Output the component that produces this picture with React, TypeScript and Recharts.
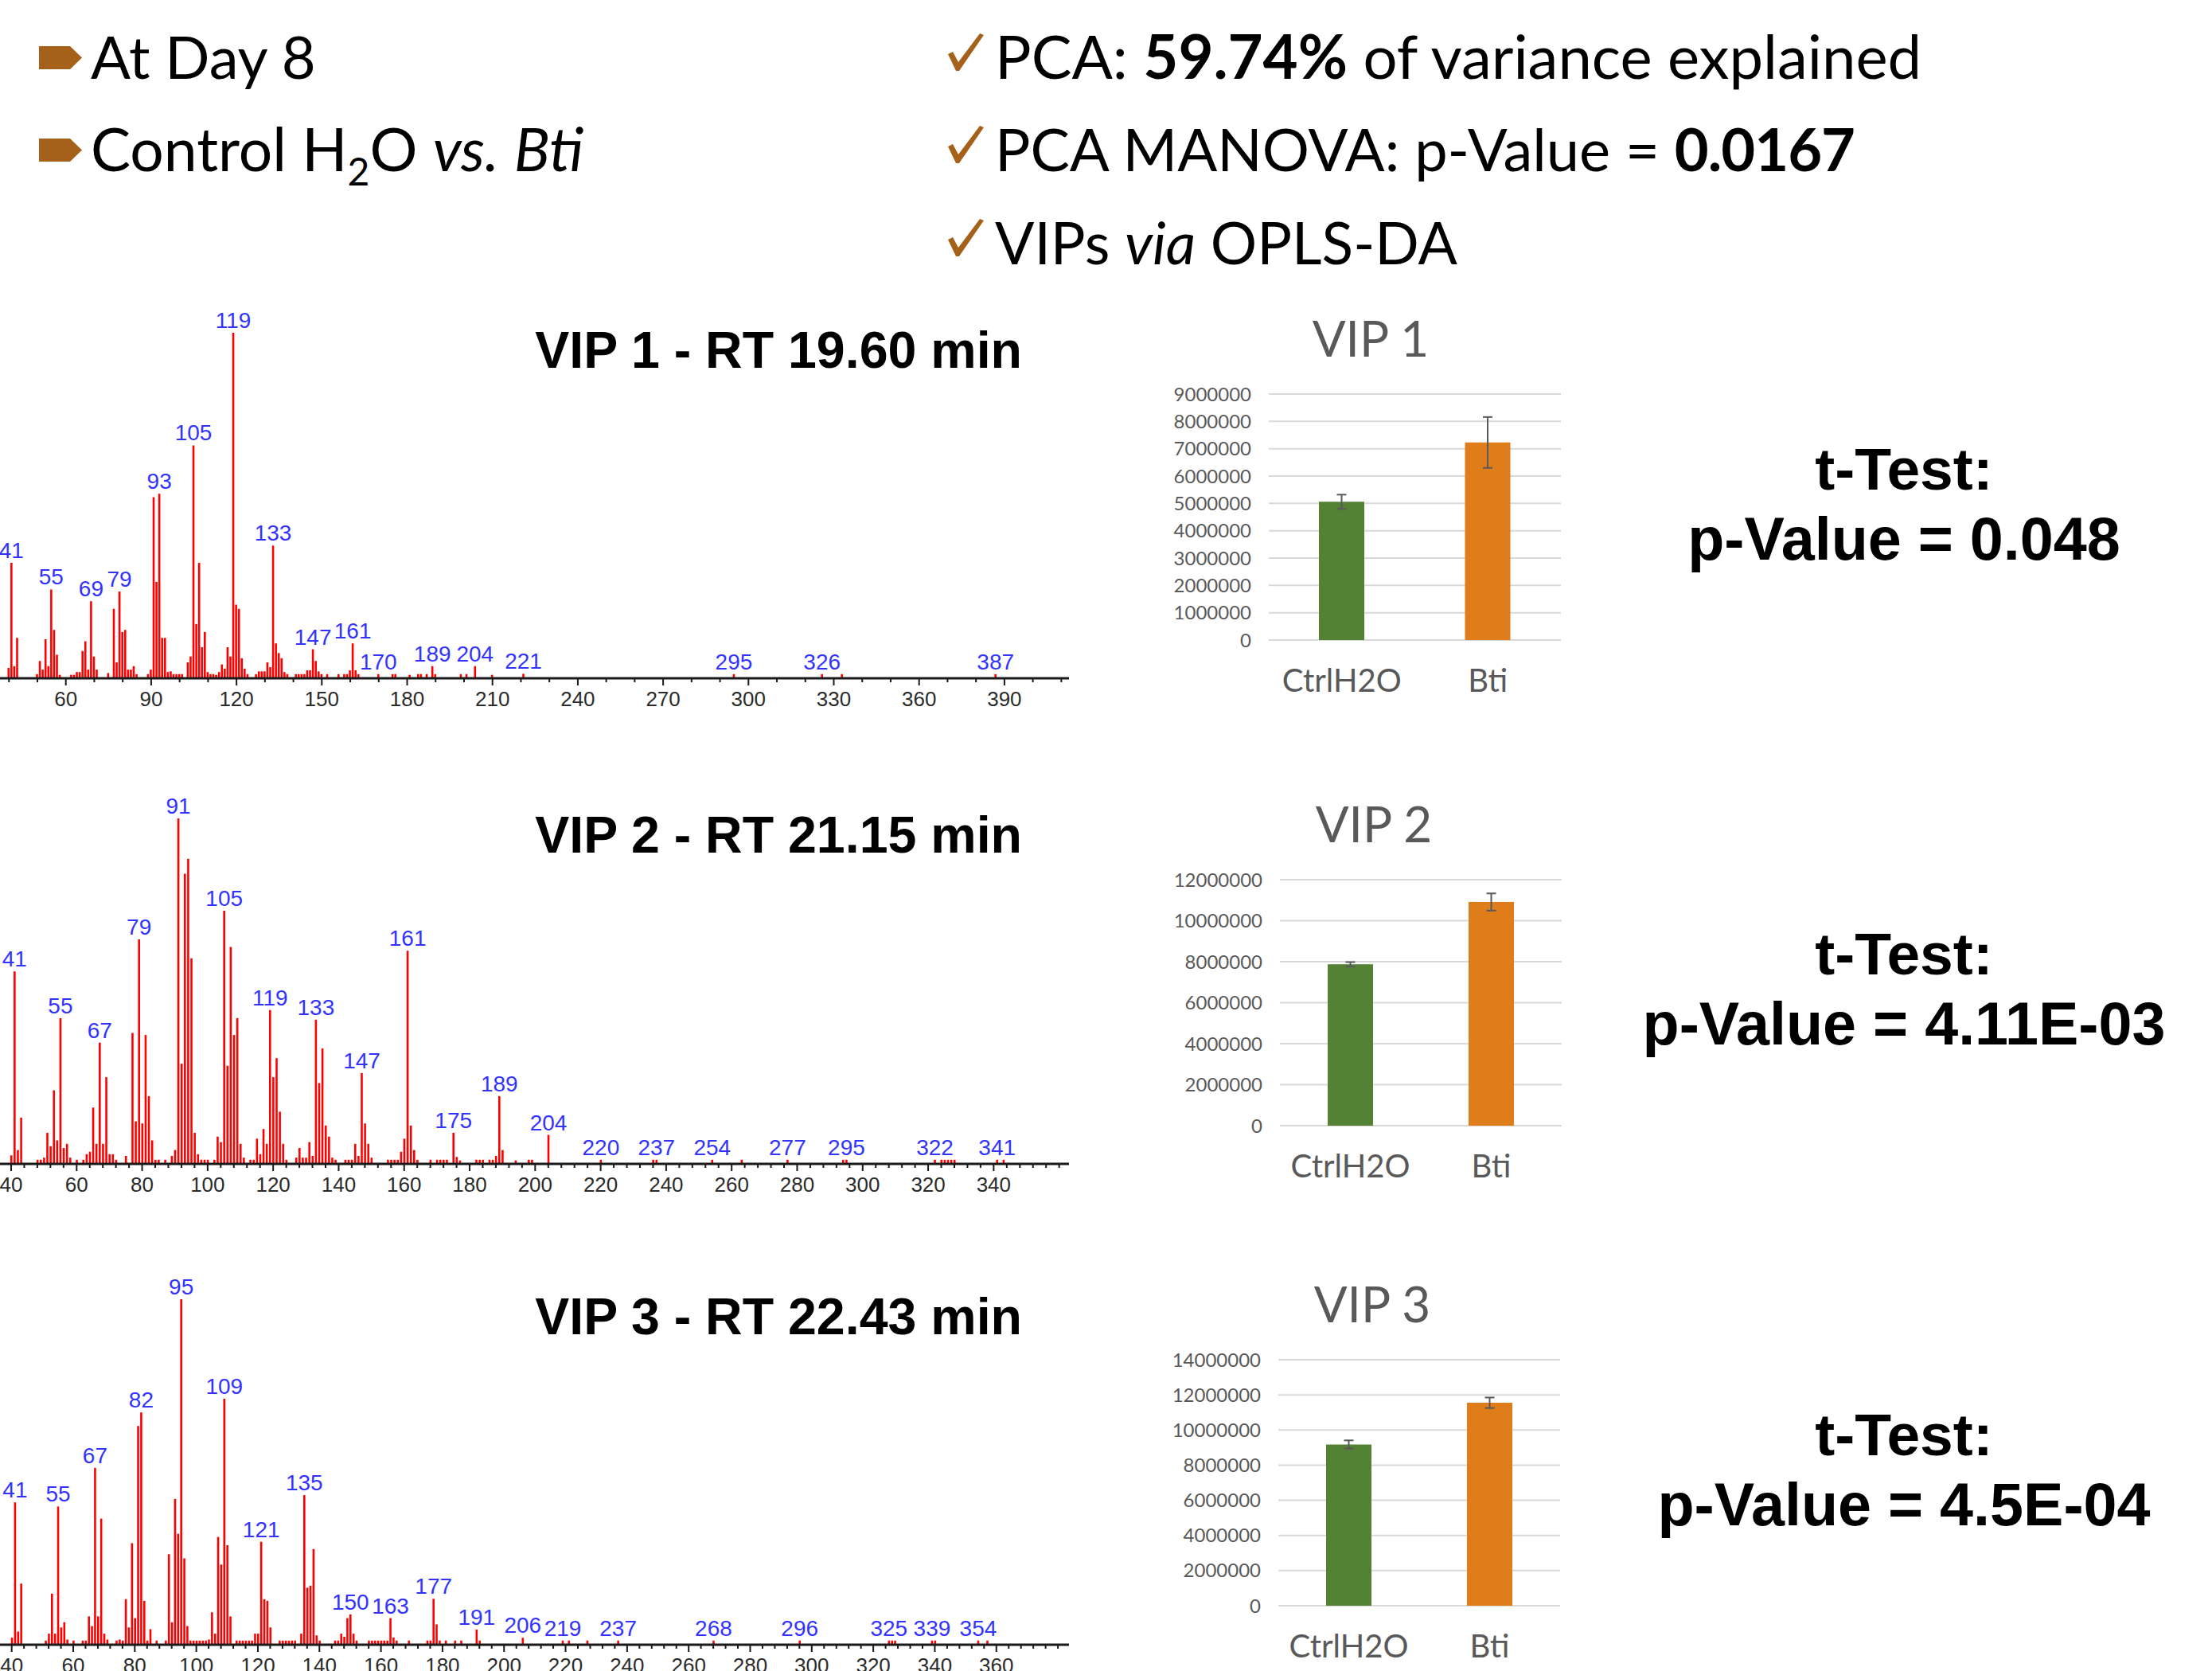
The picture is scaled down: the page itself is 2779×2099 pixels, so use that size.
import React from 'react';
import { BarChart, Bar, XAxis, YAxis, CartesianGrid, Cell, ErrorBar, LabelList } from 'recharts';

const W = 2779;
const H = 2099;
const BROWN = '#A5601A';
const GREY = '#595959';

// ---- mass spectra: m/z and relative abundance (%) ----
const SPEC1_MZ = [40, 41, 42, 43, 50, 51, 52, 53, 54, 55, 56, 57, 58, 62, 63, 64, 65, 66, 67, 68, 69, 70, 71, 75, 77, 78, 79, 80, 81, 82, 83, 84, 85, 89, 90, 91, 92, 93, 94, 95, 96, 97, 98, 99, 100, 101, 103, 104, 105, 106, 107, 108, 109, 110, 111, 112, 113, 114, 115, 116, 117, 118, 119, 120, 121, 122, 123, 124, 127, 128, 129, 130, 131, 132, 133, 134, 135, 136, 137, 138, 141, 142, 143, 144, 145, 146, 147, 148, 149, 150, 152, 156, 158, 159, 160, 161, 162, 163, 170, 175, 176, 181, 184, 185, 187, 189, 190, 199, 201, 204, 210, 221, 295, 326, 333, 387];
const SPEC1_INT = [3, 33.4, 3.5, 11.7, 1.2, 5, 2.5, 11.3, 3.5, 25.7, 14, 6.8, 1, 1, 1, 1.8, 1.8, 7.9, 10.7, 2.5, 22.3, 6.3, 2.5, 1.5, 20.1, 4.6, 25.1, 13.4, 14, 2.5, 2.5, 3.5, 1.2, 1.2, 2.5, 52.4, 27.9, 53.4, 11.7, 11.7, 1.8, 2, 1.2, 1.2, 1.2, 1.2, 4.6, 6.3, 67.4, 15.7, 33.4, 9, 13.4, 1.8, 1.2, 1.2, 1, 1.8, 4, 2.8, 9, 6.3, 100, 21.3, 20.1, 5.8, 2.8, 1.2, 1.2, 2, 2, 2, 4.6, 3.2, 38.4, 10.1, 7.3, 5.8, 1.8, 1.2, 1.2, 1.2, 1.2, 1.2, 2.3, 2.3, 8.4, 5, 2, 1.2, 1.2, 1.2, 1.2, 1.2, 2.3, 10.1, 2.3, 1.2, 1.2, 1.2, 1.2, 1, 1.2, 1.2, 1.2, 3.5, 1.2, 1.2, 1.2, 3.5, 1, 1.3, 1.2, 1.2, 1.2, 1.2];
const SPEC1_LABELED = [41, 55, 69, 79, 93, 105, 119, 133, 147, 161, 170, 189, 204, 221, 295, 326, 387];
const SPEC1_TICKS = [60, 90, 120, 150, 180, 210, 240, 270, 300, 330, 360, 390];

const SPEC2_MZ = [40, 41, 42, 43, 48, 49, 50, 51, 52, 53, 54, 55, 56, 57, 58, 60, 62, 63, 64, 65, 66, 67, 68, 69, 70, 71, 72, 75, 77, 78, 79, 80, 81, 82, 83, 84, 85, 87, 89, 90, 91, 92, 93, 94, 95, 96, 97, 98, 99, 100, 102, 103, 104, 105, 106, 107, 108, 109, 110, 111, 113, 114, 115, 116, 117, 118, 119, 120, 121, 122, 123, 124, 127, 128, 129, 130, 131, 132, 133, 134, 135, 136, 137, 138, 139, 142, 143, 144, 145, 146, 147, 148, 149, 150, 155, 156, 157, 158, 159, 160, 161, 162, 163, 164, 168, 170, 171, 172, 173, 175, 176, 177, 182, 183, 184, 186, 187, 188, 189, 190, 194, 198, 199, 204, 220, 236, 237, 254, 263, 277, 294, 295, 322, 324, 325, 326, 327, 328, 341, 343];
const SPEC2_INT = [2.5, 55.7, 4, 13.4, 1.2, 1.2, 1.8, 9, 5.1, 21.3, 6.8, 42.2, 4.6, 5.8, 1.8, 1.2, 1.2, 2.8, 3.5, 16.3, 5.8, 35.1, 5.8, 25.1, 2.8, 2.8, 1.2, 2.3, 37.9, 12.3, 65, 11.7, 37.3, 19.6, 6.8, 1.2, 1.2, 1.2, 2.3, 4, 100, 29, 84, 88.3, 59.5, 9, 2.8, 1.2, 1.2, 1.2, 1.2, 7.9, 6.3, 73.3, 28.4, 62.8, 37.3, 42.2, 5.8, 1.8, 1.2, 1.2, 7.3, 2.8, 10.1, 5.8, 44.5, 25.1, 30.6, 15.1, 5.8, 1.2, 1.8, 4.6, 1.8, 1.8, 6.3, 2.3, 41.7, 23.4, 33.4, 11.1, 7.9, 1.8, 1.2, 1.2, 1.2, 1.2, 5.8, 2.3, 26.3, 11.7, 5.8, 1.8, 1.2, 1.2, 1.2, 1.2, 3.5, 7.3, 61.7, 11.1, 4, 1.2, 1.2, 1.2, 1.2, 1.2, 1.2, 9, 2, 1, 1.2, 1.2, 1.2, 1.2, 1.2, 2.3, 19.6, 4, 1, 1.2, 1.2, 8.4, 1.2, 1.2, 1.2, 1.2, 1.2, 1.2, 1.2, 1.2, 1.2, 1.2, 1.2, 1.2, 1.2, 1.2, 1.2, 1.2];
const SPEC2_LABELED = [41, 55, 67, 79, 91, 105, 119, 133, 147, 161, 175, 189, 204, 220, 237, 254, 277, 295, 322, 341];
const SPEC2_TICKS = [40, 60, 80, 100, 120, 140, 160, 180, 200, 220, 240, 260, 280, 300, 320, 340];

const SPEC3_MZ = [40, 41, 42, 43, 51, 52, 53, 54, 55, 56, 57, 58, 60, 63, 64, 65, 66, 67, 68, 69, 70, 71, 74, 75, 76, 77, 78, 79, 80, 81, 82, 83, 84, 85, 87, 90, 91, 92, 93, 94, 95, 96, 97, 98, 99, 100, 101, 102, 103, 104, 105, 106, 107, 108, 109, 110, 111, 113, 114, 115, 116, 117, 118, 119, 120, 121, 122, 123, 124, 127, 128, 129, 130, 131, 132, 134, 135, 136, 137, 138, 139, 140, 145, 146, 147, 148, 149, 150, 151, 152, 156, 157, 158, 159, 160, 161, 162, 163, 164, 165, 169, 175, 176, 177, 178, 179, 181, 184, 186, 191, 192, 206, 219, 221, 227, 237, 268, 296, 325, 326, 327, 339, 340, 354, 357];
const SPEC3_INT = [2, 41.2, 3.8, 17.7, 1.2, 3.2, 14.8, 3.2, 40, 5, 6.5, 1.5, 1.2, 1.2, 1.2, 8.2, 5.4, 51.2, 8.2, 36.5, 3.2, 1.5, 1.2, 1.5, 1.2, 13.2, 5, 29.4, 7.7, 63.3, 67.2, 12.7, 1.2, 4.5, 1.2, 1.2, 26.2, 6.5, 42.2, 32.1, 100, 25, 5.4, 1.2, 1.2, 1.2, 1.2, 1.2, 1.2, 1.5, 9.4, 3.2, 31.2, 23.2, 71.2, 28.8, 8.2, 1.2, 1.2, 1.2, 1.2, 1.2, 1.2, 3.2, 3.2, 29.8, 13.2, 12.7, 5, 1.2, 1.2, 1.2, 1.2, 1.2, 1.2, 3.2, 43.3, 16.5, 17.1, 27.7, 2.7, 1.2, 1.2, 1.2, 3.2, 2.3, 7.7, 8.8, 3.2, 1.2, 1.2, 1.2, 1.2, 1.2, 1.2, 1.2, 1.2, 7.7, 2.1, 1.2, 1.2, 1.2, 1.2, 13.3, 5.9, 1.2, 1.2, 1.2, 1.2, 4.4, 1.2, 2, 1.2, 1.2, 1.2, 1.2, 1.2, 1.2, 1.2, 1.2, 1.2, 1.2, 1.2, 1.2, 1.2];
const SPEC3_LABELED = [41, 55, 67, 82, 95, 109, 121, 135, 150, 163, 177, 191, 206, 219, 237, 268, 296, 325, 339, 354];
const SPEC3_TICKS = [40, 60, 80, 100, 120, 140, 160, 180, 200, 220, 240, 260, 280, 300, 320, 340, 360];

const SPEC_TITLES = ['VIP 1 - RT 19.60 min', 'VIP 2 - RT 21.15 min', 'VIP 3 - RT 22.43 min'];

// ---- peak area bar charts ----
const GROUPS = ['CtrlH2O', 'Bti'];
const BAR_COLORS = ['#548235', '#DF7D1A'];
const VIP1_MEAN = [5060000, 7230000];
const VIP1_ERR = [260000, 930000];
const VIP2_MEAN = [7870000, 10910000];
const VIP2_ERR = [110000, 420000];
const VIP3_MEAN = [9180000, 11550000];
const VIP3_ERR = [230000, 300000];
const TTEST_P = ['0.048', '4.11E-03', '4.5E-04'];

const SPEC_PLOT_W = 1343;

function SpecTick(props: any) {
  const { x, y, payload, majors } = props;
  const major = majors.includes(payload.value);
  return (
    <g>
      <line x1={x} x2={x} y1={y} y2={y + (major ? 9 : 5)} stroke="#1a1a1a" strokeWidth={2} />
      {major && (
        <text x={x} y={y + 35} textAnchor="middle" fontSize={26} fill="#2b2b2b" fontFamily="'Liberation Sans', Arial, sans-serif">
          {payload.value}
        </text>
      )}
    </g>
  );
}

function Spectrum({ top, mz, intensity, labeled, majors, minorStep, domain }: any) {
  const data = mz.map((m: number, i: number) => ({
    mz: m,
    int: intensity[i],
    label: labeled.includes(m) ? String(m) : '',
  }));
  const minor: number[] = [];
  for (let t = Math.ceil(domain[0] / minorStep) * minorStep; t <= domain[1]; t += minorStep) minor.push(t);
  const ticks = Array.from(new Set([...minor, ...majors])).sort((a, b) => a - b);

  return (
    <div style={{ position: 'absolute', left: 0, top }}>
      <BarChart width={SPEC_PLOT_W} height={540} data={data} margin={{ top: 58, right: 0, left: 0, bottom: 8 }}>
        <XAxis
          type="number"
          dataKey="mz"
          domain={domain}
          allowDataOverflow
          ticks={ticks}
          interval={0}
          tickSize={0}
          tickMargin={0}
          tickLine={false}
          height={40}
          axisLine={{ stroke: '#1a1a1a', strokeWidth: 3 }}
          tick={(p: any) => <SpecTick {...p} majors={majors} />}
        />
        <YAxis hide domain={[0, 100]} />
        <Bar dataKey="int" fill="#ff0000" barSize={2.6} isAnimationActive={false}>
          <LabelList
            dataKey="label"
            position="top"
            offset={6}
            fill="#3333ff"
            fontSize={28}
            fontFamily="'Liberation Sans Narrow', 'Liberation Sans', Arial, sans-serif"
          />
        </Bar>
      </BarChart>
    </div>
  );
}

function VipBars({ plotLeft, plotTop, plotW, plotH, yMax, yStep, means, errs }: any) {
  const data = GROUPS.map((g, i) => ({ group: g, value: means[i], err: errs[i] }));
  const yTicks: number[] = [];
  for (let v = 0; v <= yMax; v += yStep) yTicks.push(v);
  const axisW = 170;
  const marginTop = 40;
  const xAxisH = 90;

  return (
    <div style={{ position: 'absolute', left: plotLeft - axisW, top: plotTop - marginTop }}>
      <BarChart
        width={axisW + plotW + 20}
        height={marginTop + plotH + xAxisH}
        data={data}
        margin={{ top: marginTop, right: 20, left: 0, bottom: 0 }}
      >
        <CartesianGrid vertical={false} stroke="#d9d9d9" strokeWidth={2} />
        <XAxis
          dataKey="group"
          axisLine={false}
          tickLine={false}
          tickMargin={31}
          height={xAxisH}
          tick={{ fontSize: 40, fill: GREY, fontFamily: 'Lato, sans-serif' }}
        />
        <YAxis
          width={axisW}
          domain={[0, yMax]}
          ticks={yTicks}
          interval={0}
          axisLine={false}
          tickLine={false}
          tickMargin={16}
          tick={{ fontSize: 24, fill: GREY, fontFamily: 'Lato, sans-serif' }}
        />
        <Bar dataKey="value" barSize={57} isAnimationActive={false}>
          {data.map((d, i) => (
            <Cell key={d.group} fill={BAR_COLORS[i]} />
          ))}
          <ErrorBar dataKey="err" width={6} strokeWidth={2} stroke={GREY} />
        </Bar>
      </BarChart>
    </div>
  );
}

function Check({ x, y }: { x: number; y: number }) {
  // brown tick mark, y is the top of the glyph
  return (
    <path
      d={`M ${x} ${y + 26} L ${x + 6} ${y + 23} L ${x + 13} ${y + 36} L ${x + 40} ${y} L ${x + 45} ${y + 2} L ${x + 14} ${y + 47} L ${x + 10} ${y + 47} Z`}
      fill={BROWN}
    />
  );
}

function Bullet({ y }: { y: number }) {
  return <polygon points={`49,${y} 88,${y} 103,${y + 14.5} 88,${y + 29} 49,${y + 29}`} fill={BROWN} />;
}

export default function App() {
  const head = "Lato, 'Open Sans', sans-serif";
  const bold = "'Liberation Sans', Arial, sans-serif";
  return (
    <div style={{ position: 'absolute', left: 0, top: 0, width: W, height: H, background: '#fff', overflow: 'hidden' }}>
      <Spectrum top={360} mz={SPEC1_MZ} intensity={SPEC1_INT} labeled={SPEC1_LABELED} majors={SPEC1_TICKS} minorStep={10} domain={[36.85, 412.7]} />
      <Spectrum top={970} mz={SPEC2_MZ} intensity={SPEC2_INT} labeled={SPEC2_LABELED} majors={SPEC2_TICKS} minorStep={4} domain={[36.6, 363]} />
      <Spectrum top={1574} mz={SPEC3_MZ} intensity={SPEC3_INT} labeled={SPEC3_LABELED} majors={SPEC3_TICKS} minorStep={4} domain={[36.2, 383.6]} />

      <VipBars plotLeft={1594} plotTop={495} plotW={367} plotH={309} yMax={9000000} yStep={1000000} means={VIP1_MEAN} errs={VIP1_ERR} />
      <VipBars plotLeft={1608} plotTop={1105} plotW={354} plotH={309} yMax={12000000} yStep={2000000} means={VIP2_MEAN} errs={VIP2_ERR} />
      <VipBars plotLeft={1606} plotTop={1708} plotW={354} plotH={309} yMax={14000000} yStep={2000000} means={VIP3_MEAN} errs={VIP3_ERR} />

      <svg width={W} height={H} style={{ position: 'absolute', left: 0, top: 0, pointerEvents: 'none' }}>
        <Bullet y={58} />
        <Bullet y={174} />
        <text x={114} y={99} fontSize={74} fontFamily={head} fill="#000">At Day 8</text>
        <text x={114} y={215} fontSize={75} fontFamily={head} fill="#000">
          Control H<tspan fontSize={48} dy={18}>2</tspan><tspan dy={-18}>O </tspan><tspan fontStyle="italic">vs.</tspan> <tspan fontStyle="italic">Bti</tspan>
        </text>

        <Check x={1191} y={42} />
        <Check x={1191} y={158} />
        <Check x={1191} y={275} />
        <text x={1250} y={99} fontSize={76} fontFamily={head} fill="#000">
          PCA: <tspan fontWeight="bold">59.74%</tspan> of variance explained
        </text>
        <text x={1250} y={215} fontSize={74} fontFamily={head} fill="#000">
          PCA MANOVA: p-Value = <tspan fontWeight="bold" letterSpacing={-1}>0.0167</tspan>
        </text>
        <text x={1250} y={332} fontSize={73} fontFamily={head} fill="#000">
          VIPs <tspan fontStyle="italic">via</tspan> OPLS-DA
        </text>

        {SPEC_TITLES.map((t, i) => (
          <text key={t} x={1284} y={[462, 1071, 1676][i]} textAnchor="end" fontSize={64.5} fontWeight="bold" fontFamily={bold} fill="#000">
            {t}
          </text>
        ))}

        {['VIP 1', 'VIP 2', 'VIP 3'].map((t, i) => (
          <text key={t} x={[1722, 1726, 1724][i]} y={[448, 1058, 1661][i]} textAnchor="middle" fontSize={62} fontFamily={head} fill={GREY}>
            {t}
          </text>
        ))}

        {TTEST_P.map((p, i) => (
          <g key={p}>
            <text x={2392} y={[615, 1224, 1828][i]} textAnchor="middle" fontSize={75} fontWeight="bold" fontFamily={bold} fill="#000">
              t-Test:
            </text>
            <text x={2392} y={[703, 1312, 1916][i]} textAnchor="middle" fontSize={75.5} fontWeight="bold" fontFamily={bold} fill="#000">
              p-Value = {p}
            </text>
          </g>
        ))}
      </svg>
    </div>
  );
}
